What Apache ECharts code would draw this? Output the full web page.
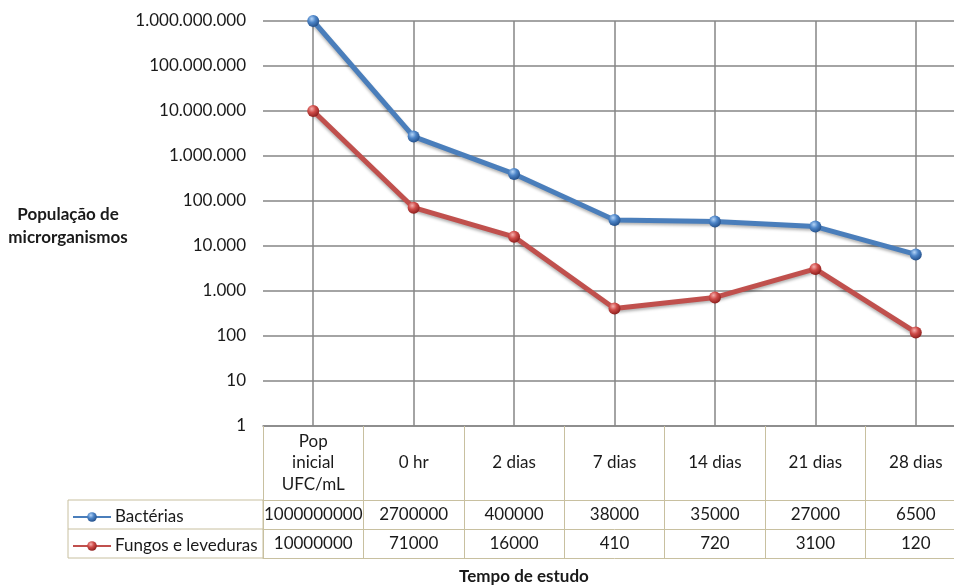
<!DOCTYPE html>
<html>
<head>
<meta charset="utf-8">
<script src="https://cdn.jsdelivr.net/npm/echarts@6/dist/echarts.min.js"></script>
<style>
  html, body { margin: 0; padding: 0; overflow: hidden; background: #fff; }
  #chart { width: 980px; height: 588px; }
</style>
</head>
<body>
<div id="chart"></div>
<script>
// Sampling times (column headers of the data table)
const categories = ['Pop\ninicial\nUFC/mL', '0 hr', '2 dias', '7 dias', '14 dias', '21 dias', '28 dias'];
// Microbial counts per sampling time
const bacterias = [1000000000, 2700000, 400000, 38000, 35000, 27000, 6500];
const fungos = [10000000, 71000, 16000, 410, 720, 3100, 120];
const seriesNames = ['Bactérias', 'Fungos e leveduras'];
const yAxisTitle = 'População de\nmicrorganismos';
const xAxisTitle = 'Tempo de estudo';

const FONT = 'Lato';
const FS = 17;
const TEXT = '#1a1a1a';
const GRID_LINE = '#868686';
const CELL_LINE = '#c8c0a0';

const chart = echarts.init(document.getElementById('chart'));

function ball(light, mid, dark) {
  return new echarts.graphic.RadialGradient(0.38, 0.32, 0.7, [
    { offset: 0, color: light },
    { offset: 0.45, color: mid },
    { offset: 1, color: dark }
  ]);
}

const gridLeft = 263, gridTop = 21, gridWidth = 703, gridHeight = 405;
const headerH = 74, rowH = 29;
const tableTop = gridTop + gridHeight;

function thousands(v) {
  return String(Math.round(v)).replace(/\B(?=(\d{3})+(?!\d))/g, '.');
}

// one category axis per table row; its ticks form the cell borders
function rowAxis(labels, offset, height, extra) {
  return Object.assign({
    type: 'category',
    data: labels,
    position: 'bottom',
    offset: offset,
    boundaryGap: true,
    axisLine: { show: true, lineStyle: { color: CELL_LINE, width: 1 } },
    axisTick: { show: true, length: height, lineStyle: { color: CELL_LINE, width: 1 } },
    axisLabel: {
      show: true, interval: 0, margin: height / 2, verticalAlign: 'middle',
      fontFamily: FONT, fontSize: FS, color: TEXT, lineHeight: 21.5
    },
    splitLine: { show: false }
  }, extra || {});
}

// legend entry placed in its own table row
function rowLegend(name, rowIndex) {
  return {
    orient: 'vertical',
    left: 72,
    top: tableTop + headerH + rowH * rowIndex + rowH / 2 - 6,
    padding: 0,
    itemWidth: 38, itemHeight: 12,
    textStyle: { fontFamily: FONT, fontSize: FS, color: TEXT, lineHeight: 12, padding: [0, 0, 0, -1] },
    data: [name]
  };
}

const option = {
  animation: false,
  backgroundColor: '#fff',
  title: [
    {
      text: yAxisTitle, left: 68, top: 203.5, textAlign: 'center', padding: 0,
      textStyle: { fontFamily: FONT, fontSize: FS, fontWeight: 'bold', color: TEXT, lineHeight: 23, align: 'center' }
    },
    {
      text: xAxisTitle, left: 524, top: 567, textAlign: 'center', padding: 0,
      textStyle: { fontFamily: FONT, fontSize: FS, fontWeight: 'bold', color: TEXT, lineHeight: 20 }
    }
  ],
  legend: [rowLegend(seriesNames[0], 0), rowLegend(seriesNames[1], 1)],
  grid: { left: gridLeft, top: gridTop, width: gridWidth, height: gridHeight, containLabel: false },
  xAxis: [
    rowAxis(categories, 0, headerH, {
      axisLine: { show: true, lineStyle: { color: GRID_LINE, width: 1.5 } },
      splitLine: { show: true, alignWithLabel: true, lineStyle: { color: GRID_LINE, width: 1.5 } }
    }),
    rowAxis(bacterias.map(String), headerH, rowH),
    rowAxis(fungos.map(String), headerH + rowH, rowH),
    rowAxis(categories, headerH + 2 * rowH, 0, {
      axisTick: { show: false }, axisLabel: { show: false }
    })
  ],
  yAxis: {
    type: 'log',
    logBase: 10,
    min: 1,
    max: 1000000000,
    axisLine: { show: false },
    axisTick: { show: false },
    axisLabel: {
      margin: 17, fontFamily: FONT, fontSize: FS, color: TEXT,
      formatter: thousands
    },
    splitLine: { show: true, lineStyle: { color: GRID_LINE, width: 1.5 } }
  },
  graphic: [
    // row-header cell borders of the data table
    {
      type: 'rect', silent: true,
      shape: { x: 68, y: tableTop + headerH, width: gridLeft - 68, height: 2 * rowH },
      style: { fill: 'none', stroke: CELL_LINE, lineWidth: 1 }
    },
    {
      type: 'line', silent: true,
      shape: { x1: 68, y1: tableTop + headerH + rowH, x2: gridLeft, y2: tableTop + headerH + rowH },
      style: { stroke: CELL_LINE, lineWidth: 1 }
    }
  ],
  series: [
    {
      name: seriesNames[0], type: 'line', data: bacterias,
      symbol: 'circle', symbolSize: 12,
      lineStyle: { color: '#4a7ebb', width: 5, shadowColor: 'rgba(0,0,0,0.3)', shadowBlur: 3, shadowOffsetY: 2 },
      itemStyle: { color: ball('#b4d4f7', '#4d85c8', '#24508a'), borderWidth: 0 },
      z: 3
    },
    {
      name: seriesNames[1], type: 'line', data: fungos,
      symbol: 'circle', symbolSize: 12,
      lineStyle: { color: '#c0504d', width: 5, shadowColor: 'rgba(0,0,0,0.3)', shadowBlur: 3, shadowOffsetY: 2 },
      itemStyle: { color: ball('#f5b0ae', '#cf4c49', '#8c1f1d'), borderWidth: 0 },
      z: 3
    }
  ]
};

chart.setOption(option);
</script>
</body>
</html>
